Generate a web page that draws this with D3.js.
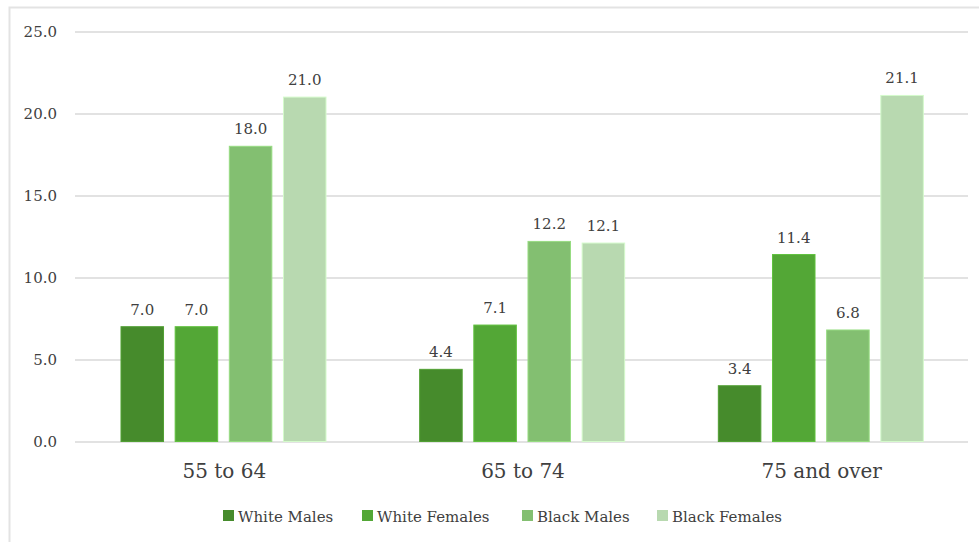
<!DOCTYPE html>
<html><head><meta charset="utf-8">
<script src="https://cdn.jsdelivr.net/npm/d3@7"></script>
<style>body{margin:0;background:#fff}svg{display:block}text{font-family:"DejaVu Serif",serif;fill:#404040}</style>
</head><body>
<svg id="c" width="979" height="542"></svg>
<script>
const categories = ["55 to 64", "65 to 74", "75 and over"];
const seriesNames = ["White Males", "White Females", "Black Males", "Black Females"];
const whiteMales = [7.0, 4.4, 3.4];
const whiteFemales = [7.0, 7.1, 11.4];
const blackMales = [18.0, 12.2, 6.8];
const blackFemales = [21.0, 12.1, 21.1];
const colors = ["#468b2c", "#53a736", "#83bf71", "#b8d9b0"];
const yTicks = [0, 5, 10, 15, 20, 25];

const values = [whiteMales, whiteFemales, blackMales, blackFemales];
const svg = d3.select("#c");
// frame
svg.append("path").attr("d", "M9.5,542 V7.5 H979").attr("fill", "none").attr("stroke", "#e3e3e3").attr("stroke-width", 2);

const x0 = d3.scaleBand().domain(categories).range([75, 971]).paddingInner(0).paddingOuter(0);
const x1 = d3.scaleBand().domain(seriesNames).range([46, 46 + 205]).paddingInner(0.215).paddingOuter(0);
const y = d3.scaleLinear().domain([0, 25]).range([441.5, 31.5]);

const yAxis = svg.append("g").attr("transform", "translate(75,0)")
  .call(d3.axisLeft(y).tickValues(yTicks).tickFormat(d3.format(".1f")).tickSize(-893).tickPadding(18));
yAxis.select(".domain").remove();
yAxis.selectAll("line").attr("stroke", "#d9d9d9").attr("stroke-width", 1.5);
yAxis.selectAll("text").attr("font-size", 15).style("font-family", "'DejaVu Serif',serif").attr("fill", "#4a4a4a");

const groups = svg.append("g").selectAll("g").data(categories).join("g")
  .attr("transform", d => `translate(${x0(d)},0)`);
groups.each(function(cat, ci) {
  const g = d3.select(this);
  seriesNames.forEach((s, si) => {
    const v = values[si][ci];
    g.append("rect").attr("x", x1(s)).attr("width", x1.bandwidth())
      .attr("y", y(v)).attr("height", y(0) - y(v))
      .attr("fill", colors[si]).attr("stroke", d3.color(colors[si]).brighter(0.4)).attr("stroke-width", 1);
    g.append("text").attr("x", x1(s) + x1.bandwidth() / 2).attr("y", y(v) - 12)
      .attr("text-anchor", "middle").attr("font-size", 15).text(v.toFixed(1));
  });
});

svg.append("g").selectAll("text").data(categories).join("text")
  .attr("x", d => x0(d) + x0.bandwidth() / 2).attr("y", 478)
  .attr("text-anchor", "middle").attr("font-size", 20).text(d => d);

const legX = [223, 362, 522, 657];
const leg = svg.append("g").selectAll("g").data(seriesNames).join("g")
  .attr("transform", (d, i) => `translate(${legX[i]},0)`);
leg.append("rect").attr("x", 0).attr("y", 510).attr("width", 11).attr("height", 11).attr("fill", (d, i) => colors[i]);
leg.append("text").attr("x", 15).attr("y", 521.5).attr("font-size", 15).text(d => d);
</script>
</body></html>
